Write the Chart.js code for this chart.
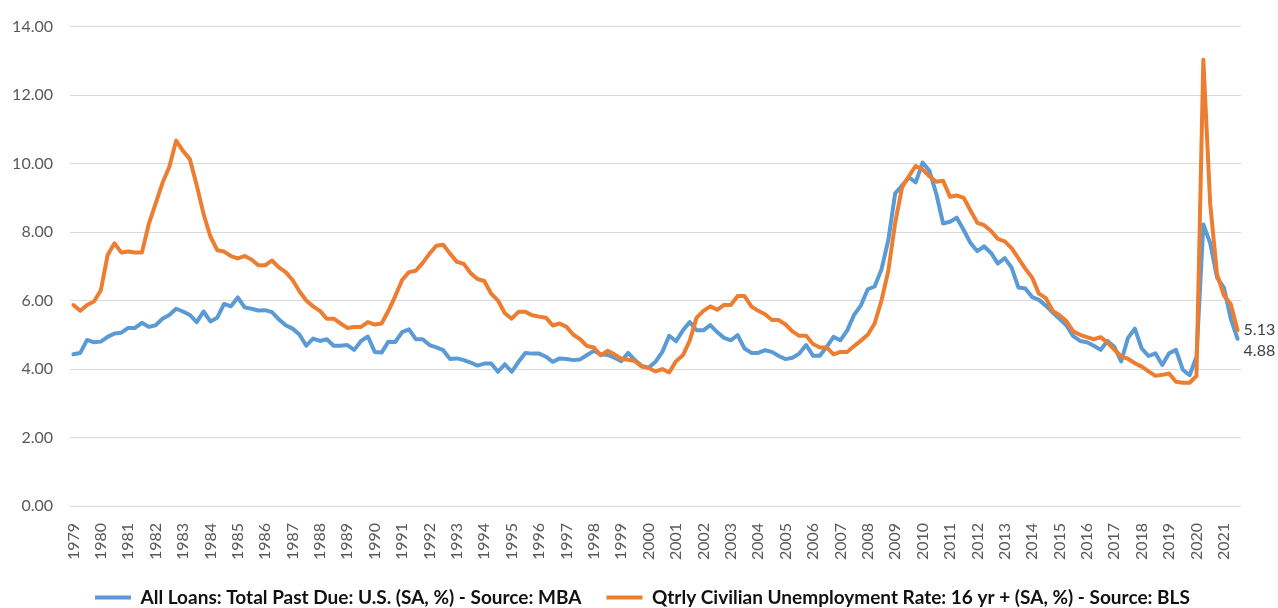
<!DOCTYPE html>
<html>
<head>
<meta charset="utf-8">
<script src="https://cdn.jsdelivr.net/npm/chart.js@4.4.1/dist/chart.umd.min.js"></script>
<style>
  html, body { margin: 0; padding: 0; background: #ffffff; }
  #wrap { width: 1278px; height: 608px; }
</style>
</head>
<body>
<div id="wrap"><canvas id="c" width="1278" height="608"></canvas></div>
<script>
// ---- data ----
const tickYears = ['1979','1980','1981','1982','1983','1984','1985','1986','1987','1988','1989','1990','1991','1992','1993','1994','1995','1996','1997','1998','1999','2000','2001','2002','2003','2004','2005','2006','2007','2008','2009','2010','2011','2012','2013','2014','2015','2016','2017','2018','2019','2020','2021'];
const quarters = ['Q1','Q2','Q3','Q4'];

const seriesNames = [
  'All Loans: Total Past Due: U.S. (SA, %) - Source: MBA',
  'Qtrly Civilian Unemployment Rate: 16 yr + (SA, %) - Source: BLS'
];

const pastDue = [
  4.43,4.47,4.85,4.78, 4.80,4.94,5.04,5.06, 5.20,5.20,5.35,5.23, 5.28,5.47,5.58,5.76,
  5.68,5.58,5.37,5.68, 5.39,5.50,5.90,5.83, 6.09,5.80,5.76,5.71, 5.72,5.66,5.45,5.28,
  5.18,5.01,4.68,4.89, 4.82,4.87,4.68,4.68, 4.70,4.56,4.82,4.95, 4.50,4.48,4.80,4.79,
  5.08,5.16,4.87,4.87, 4.70,4.63,4.55,4.29, 4.31,4.26,4.19,4.10, 4.16,4.16,3.92,4.14,
  3.92,4.21,4.47,4.45, 4.45,4.36,4.21,4.31, 4.29,4.26,4.28,4.41, 4.53,4.43,4.41,4.33,
  4.23,4.47,4.26,4.09, 4.04,4.21,4.50,4.97, 4.81,5.13,5.37,5.13, 5.13,5.28,5.08,4.91,
  4.84,4.99,4.60,4.47, 4.47,4.55,4.50,4.38, 4.29,4.33,4.45,4.70, 4.39,4.39,4.65,4.94,
  4.84,5.13,5.58,5.86, 6.33,6.41,6.91,7.77, 9.13,9.36,9.60,9.45, 10.03,9.79,9.12,8.25,
  8.30,8.42,8.06,7.68, 7.44,7.58,7.39,7.08, 7.24,6.96,6.38,6.35, 6.10,6.02,5.85,5.65,
  5.47,5.28,4.96,4.82, 4.78,4.68,4.56,4.82, 4.65,4.22,4.91,5.18, 4.60,4.38,4.46,4.12,
  4.46,4.56,3.98,3.82, 4.36,8.22,7.68,6.67, 6.38,5.47,4.88
];

const unemployment = [
  5.87,5.70,5.87,5.97, 6.30,7.33,7.67,7.40, 7.43,7.40,7.40,8.23, 8.83,9.43,9.90,10.67,
  10.37,10.13,9.37,8.53, 7.87,7.47,7.43,7.30, 7.23,7.30,7.20,7.03, 7.03,7.17,6.97,6.83,
  6.60,6.27,6.00,5.83, 5.70,5.47,5.47,5.33, 5.20,5.23,5.23,5.37, 5.30,5.33,5.70,6.13,
  6.60,6.83,6.87,7.10, 7.37,7.60,7.63,7.37, 7.13,7.07,6.80,6.63, 6.57,6.20,6.00,5.63,
  5.47,5.67,5.67,5.57, 5.53,5.50,5.27,5.33, 5.23,5.00,4.87,4.67, 4.63,4.40,4.53,4.43,
  4.30,4.27,4.23,4.07, 4.03,3.93,4.00,3.90, 4.23,4.40,4.83,5.50, 5.70,5.83,5.73,5.87,
  5.87,6.13,6.13,5.83, 5.70,5.60,5.43,5.43, 5.30,5.10,4.97,4.97, 4.73,4.63,4.63,4.43,
  4.50,4.50,4.67,4.83, 5.00,5.33,6.00,6.87, 8.27,9.30,9.63,9.93, 9.83,9.63,9.47,9.50,
  9.03,9.07,9.00,8.63, 8.27,8.20,8.03,7.80, 7.73,7.53,7.23,6.93, 6.67,6.20,6.07,5.70,
  5.57,5.40,5.10,5.00, 4.93,4.87,4.93,4.77, 4.57,4.37,4.30,4.17, 4.07,3.93,3.80,3.83,
  3.87,3.63,3.60,3.60, 3.80,13.03,8.83,6.77, 6.15,5.90,5.13
];

const yTicks = [0, 2, 4, 6, 8, 10, 12, 14];

// category labels (one per quarter), built from the year list
const categories = [];
tickYears.forEach(y => quarters.forEach(q => categories.push(y + ' ' + q)));
categories.length = pastDue.length;

// ---- drawing ----
const FONT = 'Lato';

const endLabels = {
  id: 'endLabels',
  afterDatasetsDraw(chart) {
    const ctx = chart.ctx;
    chart.data.datasets.forEach((ds, i) => {
      const meta = chart.getDatasetMeta(i);
      const pt = meta.data[meta.data.length - 1];
      const v = ds.data[ds.data.length - 1];
      ctx.save();
      ctx.font = '16px ' + FONT;
      ctx.fillStyle = '#404040';
      ctx.textAlign = 'left';
      ctx.textBaseline = 'middle';
      ctx.fillText(v.toFixed(2), pt.x + 6, pt.y + (ds.labelOffsetY || 0));
      ctx.restore();
    });
  }
};

new Chart(document.getElementById('c'), {
  type: 'line',
  data: {
    labels: categories,
    datasets: [
      {
        label: seriesNames[0],
        data: pastDue,
        borderColor: '#5B9BD5',
        backgroundColor: '#5B9BD5',
        borderWidth: 4,
        pointRadius: 0,
        tension: 0,
        borderJoinStyle: 'round',
        borderCapStyle: 'round',
        order: 1,
        labelOffsetY: 12
      },
      {
        label: seriesNames[1],
        data: unemployment,
        borderColor: '#ED7D31',
        backgroundColor: '#ED7D31',
        borderWidth: 4,
        pointRadius: 0,
        tension: 0,
        borderJoinStyle: 'round',
        borderCapStyle: 'round',
        order: 0,
        labelOffsetY: 0
      }
    ]
  },
  options: {
    responsive: false,
    animation: false,
    layout: { padding: { top: 21, right: 37, bottom: -9, left: 0 } },
    plugins: {
      tooltip: { enabled: false },
      legend: {
        position: 'bottom',
        align: 'start',
        fullSize: false,
        labels: {
          usePointStyle: true,
          pointStyle: 'line',
          pointStyleWidth: 36,
          boxWidth: 36,
          padding: 25,
          color: '#111111',
          font: { family: FONT, size: 19, weight: 'bold' },
          sort: (a, b) => a.datasetIndex - b.datasetIndex
        }
      }
    },
    scales: {
      x: {
        type: 'category',
        offset: true,
        grid: { display: false, drawTicks: false },
        border: { display: false },
        ticks: {
          autoSkip: false,
          maxRotation: 90,
          minRotation: 90,
          padding: 17,
          color: '#595959',
          font: { family: FONT, size: 16 },
          callback: function (value, index) {
            return index % 4 === 0 ? tickYears[index / 4] : '';
          }
        },
        afterFit: s => { s.height = 57; }
      },
      y: {
        min: yTicks[0],
        max: yTicks[yTicks.length - 1],
        afterBuildTicks: s => { s.ticks = yTicks.map(v => ({ value: v })); },
        grid: { color: '#d9d9d9', lineWidth: 1, drawTicks: false },
        border: { display: false },
        ticks: {
          padding: 17,
          color: '#595959',
          font: { family: FONT, size: 16 },
          callback: v => Number(v).toFixed(2)
        },
        afterFit: s => { s.width = 70; }
      }
    }
  },
  plugins: [endLabels]
});
</script>
</body>
</html>
